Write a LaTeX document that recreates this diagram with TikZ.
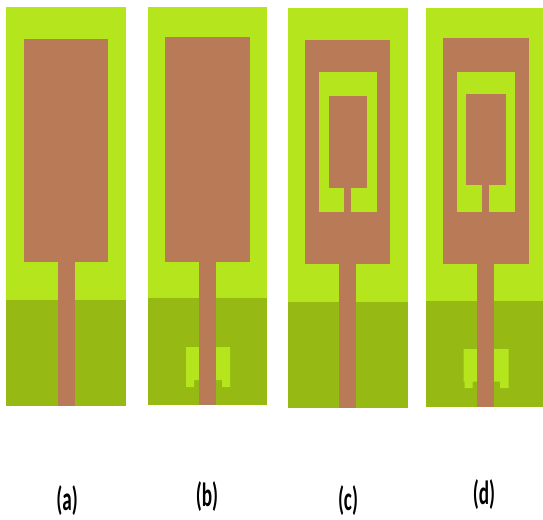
\documentclass[tikz,border=0pt]{standalone}
\usepackage{fontspec}
\setmainfont{Carlito}
\definecolor{sub}{HTML}{B5E61D}
\definecolor{gnd}{HTML}{96B913}
\definecolor{cu}{HTML}{B97A57}
\tikzset{
  substrate/.style={fill=sub,draw=none},
  ground/.style={fill=gnd,draw=none},
  copper/.style={fill=cu,draw=none},
  slot/.style={fill=sub,draw=none},
  caption/.style={inner sep=0pt,font=\bfseries\fontsize{24}{24}\selectfont}
}
\begin{document}
\begin{tikzpicture}[x=1pt,y=-1pt]
\useasboundingbox (0,0) rectangle (543,519);
% (a)
\fill[substrate] (6,7) rectangle (126,301);
\fill[ground] (6,300) rectangle (126,406);
\fill[copper] (24,39) rectangle (108,262);
\fill[copper] (58,261) rectangle (75,406);
% (b)
\fill[substrate] (148,7) rectangle (267,299);
\fill[ground] (148,298) rectangle (267,404.5);
\fill[slot] (186,347) -| (230,387) -- (222,387) -- (222,380) -- (194,380) -- (194,387) -- (186,387) -- cycle;
\fill[copper] (165,37) rectangle (250,262);
\fill[copper] (199,261) rectangle (216,404.5);
% (c)
\fill[substrate] (288,8.5) rectangle (408,303);
\fill[ground] (288,302) rectangle (408,408);
\fill[copper] (305,40) rectangle (390,264);
\fill[substrate] (319,72) rectangle (377,212);
\fill[copper] (329,96) rectangle (367,188);
\fill[copper] (343.7,187) rectangle (350.7,213);
\fill[copper] (339,263) rectangle (356,408);
% (d)
\fill[substrate] (426,8) rectangle (543,302);
\fill[ground] (426,300.5) rectangle (543,406.5);
\fill[slot] (463.5,349) -| (508.5,388) -- (500,388) -- (500,381.5) -- (472.5,381.5) -- (472.5,388) -- (464.5,388) -- (464.5,381.5) -- (463.5,381.5) -- cycle;
\fill[copper] (443,38) rectangle (528.7,264);
\fill[substrate] (456.7,72) rectangle (514.7,212);
\fill[copper] (466,94) rectangle (505.7,185);
\fill[copper] (481.7,184) rectangle (489,213);
\fill[copper] (477,263) rectangle (493.7,406.5);
% captions
\node[caption] (capa) at (67,501) {\scalebox{0.8}[1.4]{(a)}};
\node[caption] (capb) at (207,497) {\scalebox{0.8}[1.4]{(b)}};
\node[caption] (capc) at (348,501) {\scalebox{0.8}[1.4]{(c)}};
\node[caption] (capd) at (484,495) {\scalebox{0.8}[1.4]{(d)}};
\end{tikzpicture}
\end{document}
